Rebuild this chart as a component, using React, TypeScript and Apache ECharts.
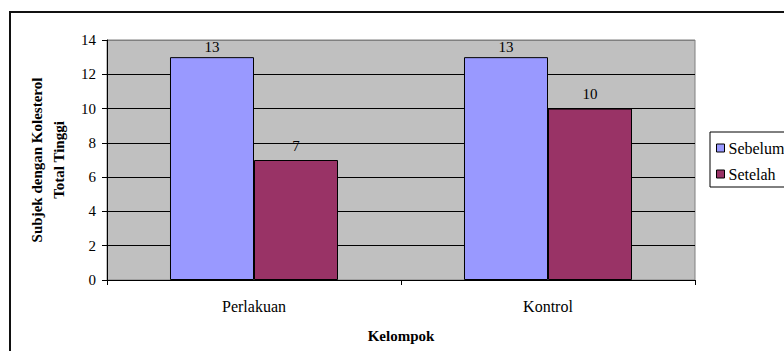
import React, { useEffect, useRef } from "react";
import * as echarts from "echarts";

const categories = ["Perlakuan", "Kontrol"];
const sebelum = [13, 13];
const setelah = [7, 10];
const seriesNames = ["Sebelum", "Setelah"];
const yTicks = { min: 0, max: 14, interval: 2 };

const FONT = "Liberation Serif";

export default function App() {
  const ref = useRef<HTMLDivElement>(null);

  useEffect(() => {
    if (!ref.current) return;
    const chart = echarts.init(ref.current, undefined, { renderer: "svg" });
    // the top gridline coincides with the grey plot-area border
    const gridColors: string[] = [];
    for (let v = yTicks.min; v <= yTicks.max; v += yTicks.interval) {
      gridColors.push(v === yTicks.max ? "#808080" : "#000000");
    }
    chart.setOption({
      animation: false,
      backgroundColor: "#ffffff",
      textStyle: { fontFamily: FONT },
      grid: {
        left: 107,
        top: 40,
        width: 588,
        height: 240,
        show: true,
        backgroundColor: "#C0C0C0",
        borderColor: "#808080",
        borderWidth: 1,
      },
      legend: {
        orient: "vertical",
        left: 710,
        top: 132,
        data: seriesNames,
        icon: "rect",
        itemWidth: 8,
        itemHeight: 8,
        itemGap: 10,
        padding: [8, 12, 5, 6],
        borderColor: "#000",
        borderWidth: 1,
        backgroundColor: "#fff",
        itemStyle: { borderColor: "#000", borderWidth: 1 },
        textStyle: { fontFamily: FONT, fontSize: 16, color: "#000", padding: [0, 0, 0, -1] },
      },
      xAxis: {
        type: "category",
        data: categories,
        name: "Kelompok",
        nameLocation: "middle",
        nameGap: 48,
        nameTextStyle: { fontFamily: FONT, fontSize: 15, fontWeight: "bold", color: "#000" },
        axisLine: { lineStyle: { color: "#000", width: 1 } },
        axisTick: { show: true, length: 5, lineStyle: { color: "#000" } },
        axisLabel: { fontFamily: FONT, fontSize: 16, color: "#000", margin: 18 },
        splitLine: { show: false },
      },
      yAxis: {
        type: "value",
        min: yTicks.min,
        max: yTicks.max,
        interval: yTicks.interval,
        name: "Subjek dengan Kolesterol\nTotal Tinggi",
        nameLocation: "middle",
        nameGap: 34,
        nameTextStyle: {
          fontFamily: FONT,
          fontSize: 15,
          fontWeight: "bold",
          color: "#000",
          lineHeight: 22,
        },
        axisLine: { show: true, lineStyle: { color: "#000", width: 1 } },
        axisTick: { show: true, length: 5, lineStyle: { color: "#000" } },
        axisLabel: { fontFamily: FONT, fontSize: 15, color: "#000", margin: 11 },
        splitLine: { show: true, lineStyle: { color: gridColors, width: 1 } },
      },
      series: [
        {
          name: seriesNames[0],
          type: "bar",
          data: sebelum,
          barGap: "0%",
          barCategoryGap: "42.857%",
          itemStyle: { color: "#9999FF", borderColor: "#000", borderWidth: 1 },
          label: {
            show: true,
            position: "top",
            distance: 3,
            fontFamily: FONT,
            fontSize: 15,
            color: "#000",
          },
        },
        {
          name: seriesNames[1],
          type: "bar",
          data: setelah,
          itemStyle: { color: "#993366", borderColor: "#000", borderWidth: 1 },
          label: {
            show: true,
            position: "top",
            distance: 7,
            fontFamily: FONT,
            fontSize: 15,
            color: "#000",
          },
        },
      ],
      graphic: [
        {
          type: "rect",
          z: 100,
          silent: true,
          shape: { x: 10, y: 12, width: 800, height: 400 },
          style: { fill: "none", stroke: "#111", lineWidth: 2 },
        },
      ],
    });
    return () => chart.dispose();
  }, []);

  return (
    <div
      ref={ref}
      style={{ position: "absolute", left: 0, top: 0, width: 784, height: 351 }}
    />
  );
}
